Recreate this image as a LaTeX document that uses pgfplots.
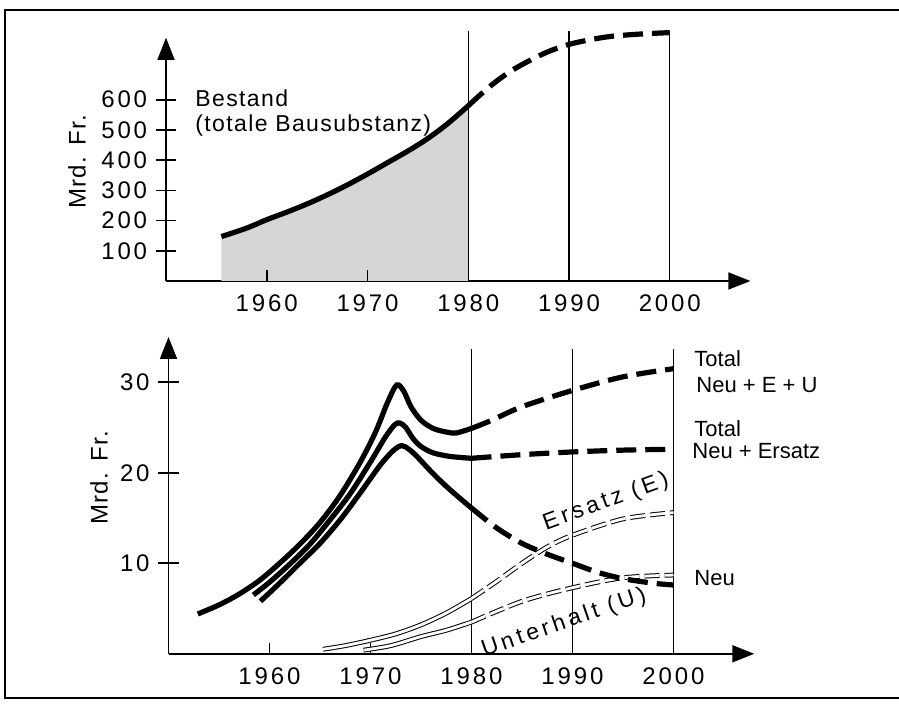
\documentclass[border=0pt]{standalone}
\usepackage{fontspec}
\setmainfont{Liberation Sans}
\newfontfamily\tickfont{Liberation Sans}[LetterSpace=12]
\newfontfamily\widefont{Liberation Sans}[LetterSpace=6]
\newfontfamily\rotfont{Liberation Sans}[LetterSpace=16]
\usepackage{pgfplots}
\pgfplotsset{compat=1.18}
\usetikzlibrary{arrows.meta}

\pgfplotsset{
  panel/.style={
    scale only axis, axis lines=left, clip=false,
    xmin=1950, xmax=2008, ymin=0,
    axis line style={line width=0.9pt, -{Triangle[length=11pt,width=8.5pt]}},
    tick align=center, major tick length=10.5pt,
    tick style={line width=0.8pt, black},
    xtick={1960,1970,1980,1990,2000},
    xtick style={draw=none},
    /pgf/number format/assume math mode=true,
    /pgf/number format/1000 sep={},
    tick label style={font=\tickfont\fontsize{12}{14}\selectfont},
    xticklabel style={anchor=north, inner sep=0pt, yshift=-1.5pt},
    yticklabel style={anchor=east, inner sep=0pt, xshift=-4pt},
  },
  solidthick/.style={line width=2.6pt, smooth, black},
  dashthick/.style={line width=2.6pt, smooth, black, dash pattern=on 10pt off 4.5pt},
  dbl/.style={smooth, draw=black, line width=0.5pt, double=white, double distance=1.4pt},
  dbldash/.style={smooth, draw=black, line width=0.5pt, double=white, double distance=1.4pt, dash pattern=on 7.5pt off 2.5pt},
  vline/.style={line width=0.65pt, black},
}

\begin{document}
\begin{tikzpicture}
\begin{scope}[x=0.5pt,y=0.5pt]
  \path[use as bounding box] (0,0) rectangle (899,704);
  \draw[line width=1pt] (899,694) -- (5,694) -- (5,6) -- (899,6);
\end{scope}

% ---------------- top panel ----------------
\begin{axis}[panel, at={(83pt,211.5pt)}, anchor=south west,
  width=292.2pt, height=121.6pt, ymax=805,
  ytick={100,200,300,400,500,600}]
  \addplot[draw=none, fill=black!16, smooth] coordinates {
    (1955.5,147) (1958,175) (1960,203) (1962,228) (1964,255) (1966,285) (1968,318)
    (1970,354) (1972,392) (1974,430) (1976,472) (1978,522) (1980,580)
  } \closedcycle;
  \addplot[vline] coordinates {(1980,0) (1980,826)};
  \addplot[vline] coordinates {(1990,0) (1990,826)};
  \addplot[vline] coordinates {(2000,0) (2000,826)};
  \addplot[line width=0.8pt] coordinates {(1960,0) (1960,36)};
  \addplot[line width=0.8pt] coordinates {(1970,0) (1970,36)};
  \addplot[solidthick] coordinates {
    (1955.5,147) (1958,175) (1960,203) (1962,228) (1964,255) (1966,285) (1968,318)
    (1970,354) (1972,392) (1974,430) (1976,472) (1978,522) (1980,580)
  };
  \addplot[dashthick] coordinates {
    (1980,580) (1982,640) (1984,690) (1986,728) (1988,760) (1990,783)
    (1992,798) (1994,809) (1996,815) (1998,819) (2000,822)
  };
\end{axis}

% ---------------- bottom panel ----------------
\begin{axis}[panel, at={(84.25pt,25.1pt)}, anchor=south west,
  width=292.9pt, height=158.4pt, ymax=35,
  ytick={10,20,30}]
  \addplot[vline] coordinates {(1980,0) (1980,33.7)};
  \addplot[vline] coordinates {(1990,0) (1990,33.7)};
  \addplot[vline] coordinates {(2000,0) (2000,33.7)};
  \addplot[line width=0.8pt] coordinates {(1960,0) (1960,1.2)};
  \addplot[line width=0.8pt] coordinates {(1970,0) (1970,1.2)};
  % Ersatz (E)
  \addplot[dbl] coordinates {
    (1965.3,0.5) (1967.5,0.9) (1970,1.5) (1972.5,2.2) (1975,3.2) (1977.5,4.5) (1980,6.1)
  };
  \addplot[dbldash] coordinates {
    (1980,6.1) (1982.5,8.0) (1985,10.0) (1987.5,11.8) (1990,13.1) (1995,14.9) (2000,15.6)
  };
  % Unterhalt (U)
  \addplot[dbl] coordinates {
    (1969.3,0.4) (1972,0.9) (1975,1.9) (1977.5,2.6) (1980,3.5)
  };
  \addplot[dbldash] coordinates {
    (1980,3.5) (1985,5.8) (1990,7.3) (1995,8.4) (2000,8.7)
  };
  % Total Neu + E + U
  \addplot[solidthick] coordinates {
    (1952.9,4.4) (1955,5.4) (1957,6.6) (1959,8.1) (1961,10.0) (1963,12.1) (1965,14.5)
    (1967,17.5) (1969,21.2) (1970.5,24.5) (1971.7,27.8) (1972.6,29.7) (1973.3,29.0)
    (1974,27.3) (1975,25.8) (1976.2,24.9) (1977.5,24.5) (1978.5,24.4) (1980,24.9)
  };
  \addplot[dashthick] coordinates {
    (1980,24.9) (1982,25.8) (1985,27.3) (1990,29.1) (1995,30.6) (2000,31.5)
  };
  % Total Neu + Ersatz
  \addplot[solidthick] coordinates {
    (1958.4,6.5) (1960,7.9) (1962,9.9) (1964,12.1) (1966,14.8) (1968,17.7) (1970,21.2)
    (1971.5,24.0) (1972.4,25.3) (1972.9,25.5) (1973.5,25.0) (1974.2,23.8) (1975,22.9)
    (1976.2,22.2) (1977.9,21.8) (1980,21.6)
  };
  \addplot[dashthick] coordinates {
    (1980,21.6) (1985,22.0) (1990,22.3) (1995,22.5) (2000,22.6)
  };
  % Neu
  \addplot[solidthick] coordinates {
    (1959.1,5.8) (1961,7.8) (1963,10.0) (1965,12.2) (1967,14.8) (1969,17.8) (1971,20.9)
    (1972.3,22.5) (1973.1,23.0) (1973.8,22.6) (1974.6,21.8) (1976.2,19.9) (1977.9,18.1) (1980,16.1)
  };
  \addplot[dashthick] coordinates {
    (1980,16.1) (1982.5,13.9) (1985,12.2) (1987.5,11.0) (1990,10.0)
    (1992.5,9.0) (1995,8.3) (1998,7.8) (2000,7.6)
  };
\end{axis}

% ---------------- labels ----------------
\begin{scope}[x=0.5pt,y=0.5pt, every node/.style={font=\fontsize{11}{13}\selectfont, inner sep=0pt}]
  \node[rotate=90, font=\widefont\fontsize{12}{14}\selectfont] at (77,542) {Mrd. Fr.};
  \node[rotate=90, font=\widefont\fontsize{12}{14}\selectfont] at (99,226) {Mrd. Fr.};
  \node[anchor=base west, font=\widefont\fontsize{11.5}{13}\selectfont] at (195,597) {Bestand};
  \node[anchor=base west, font=\widefont\fontsize{11.5}{13}\selectfont] at (195,572) {(totale Bausubstanz)};
  \node[anchor=base west] at (694,337) {Total};
  \node[anchor=base west] at (696,311) {Neu + E + U};
  \node[anchor=base west] at (694,267) {Total};
  \node[anchor=base west] at (692,245) {Neu + Ersatz};
  \node[anchor=base west] at (694,118) {Neu};
  \node[rotate=20, font=\rotfont\fontsize{11.5}{13}\selectfont] at (606,202) {Ersatz (E)};
  \node[rotate=19, font=\rotfont\fontsize{11.5}{13}\selectfont] at (564,81) {Unterhalt (U)};
\end{scope}
\end{tikzpicture}
\end{document}
